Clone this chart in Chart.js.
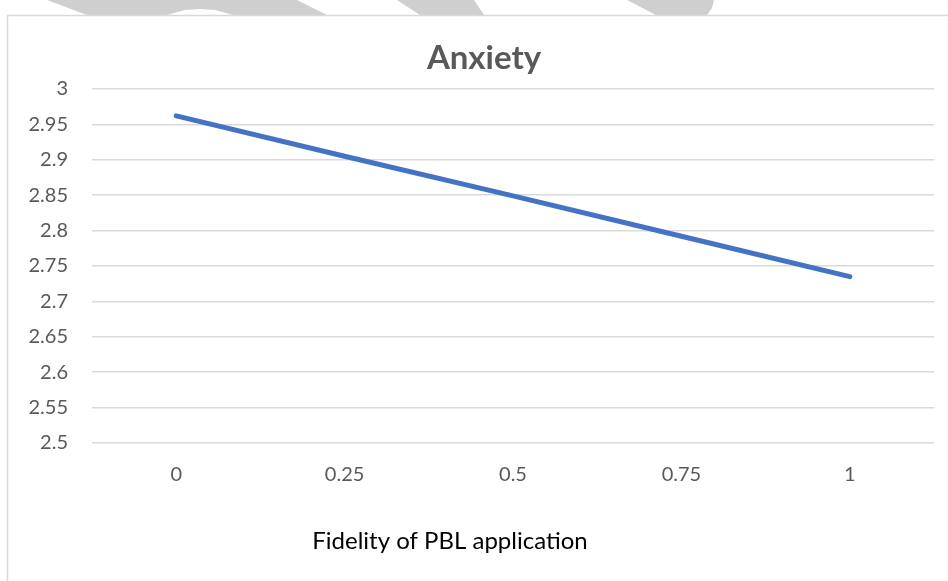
<!DOCTYPE html>
<html>
<head>
<meta charset="utf-8">
<title>Anxiety</title>
<script src="https://cdn.jsdelivr.net/npm/chart.js@4/dist/chart.umd.min.js"></script>
<style>
  html, body { margin: 0; padding: 0; background: #ffffff; }
  #wrap { width: 948px; height: 581px; position: relative; }
</style>
</head>
<body>
<div id="wrap"><canvas id="chart" width="948" height="581"></canvas></div>
<script>
// Fidelity of PBL application (x categories)
const fidelityLevels = ['0', '0.25', '0.5', '0.75', '1'];
// Predicted anxiety score at each fidelity level
const anxietyScores = [2.962, 2.905, 2.849, 2.792, 2.735];
// Value axis range and tick spacing
const yMin = 2.5;
const yMax = 3;
const yStep = 0.05;

const chartTitle = 'Anxiety';
const xAxisTitle = 'Fidelity of PBL application';

const FONT = 'Lato, "Open Sans", sans-serif';

// Frame around the chart and the grey shapes from the page background above it
const framePlugin = {
  id: 'frame',
  beforeDraw(chart) {
    const ctx = chart.ctx;
    ctx.save();
    ctx.fillStyle = '#cfcfcf';
    const shapes = [
      [[47, 0], [297, 0], [327, 15], [233, 15], [215, 10], [200, 9], [185, 10], [167, 15], [87, 15]],
      [[397, 0], [474, 0], [484, 15], [420, 15]],
      [[627, 0], [714, 0], [712, 8], [707, 15], [656, 15]]
    ];
    shapes.forEach(pts => {
      ctx.beginPath();
      pts.forEach((p, i) => i ? ctx.lineTo(p[0], p[1]) : ctx.moveTo(p[0], p[1]));
      ctx.closePath();
      ctx.fill();
    });
    ctx.strokeStyle = '#d9d9d9';
    ctx.lineWidth = 1.5;
    ctx.beginPath();
    ctx.moveTo(7.5, chart.height);
    ctx.lineTo(7.5, 15.5);
    ctx.lineTo(chart.width, 15.5);
    ctx.stroke();
    ctx.restore();
  },
  // Chart title and axis title, centred on the whole chart frame
  afterDraw(chart) {
    const ctx = chart.ctx;
    ctx.save();
    ctx.textAlign = 'center';
    ctx.textBaseline = 'alphabetic';
    ctx.fillStyle = '#595959';
    ctx.font = 'bold 33px ' + FONT;
    ctx.fillText(chartTitle, 484, 69);
    ctx.fillStyle = '#000000';
    ctx.font = '24px ' + FONT;
    ctx.fillText(xAxisTitle, 450, 549);
    ctx.restore();
  }
};

Chart.defaults.font.family = FONT;

new Chart(document.getElementById('chart'), {
  type: 'line',
  data: {
    labels: fidelityLevels,
    datasets: [{
      label: chartTitle,
      data: anxietyScores,
      borderColor: '#4472C4',
      backgroundColor: '#4472C4',
      borderWidth: 5,
      borderCapStyle: 'round',
      borderJoinStyle: 'round',
      pointRadius: 0,
      pointHoverRadius: 0,
      tension: 0,
      fill: false
    }]
  },
  options: {
    responsive: false,
    animation: false,
    layout: { padding: { left: 8, right: 14, top: 89, bottom: 0 } },
    plugins: {
      legend: { display: false },
      tooltip: { enabled: false },
      title: { display: false }
    },
    scales: {
      x: {
        type: 'category',
        offset: true,
        grid: { display: false, drawTicks: false },
        border: { display: false },
        ticks: { color: '#595959', font: { size: 20 }, padding: 20, maxRotation: 0 },
        afterFit(scale) { scale.height = 138; }
      },
      y: {
        min: yMin,
        max: yMax,
        grid: { color: '#d9d9d9', lineWidth: 1.5, drawTicks: false },
        border: { display: false },
        ticks: {
          stepSize: yStep,
          color: '#595959',
          font: { size: 20 },
          padding: 24,
          callback: v => String(Number(v.toFixed(2)))
        },
        afterFit(scale) { scale.width = 84; }
      }
    }
  },
  plugins: [framePlugin]
});
</script>
</body>
</html>
